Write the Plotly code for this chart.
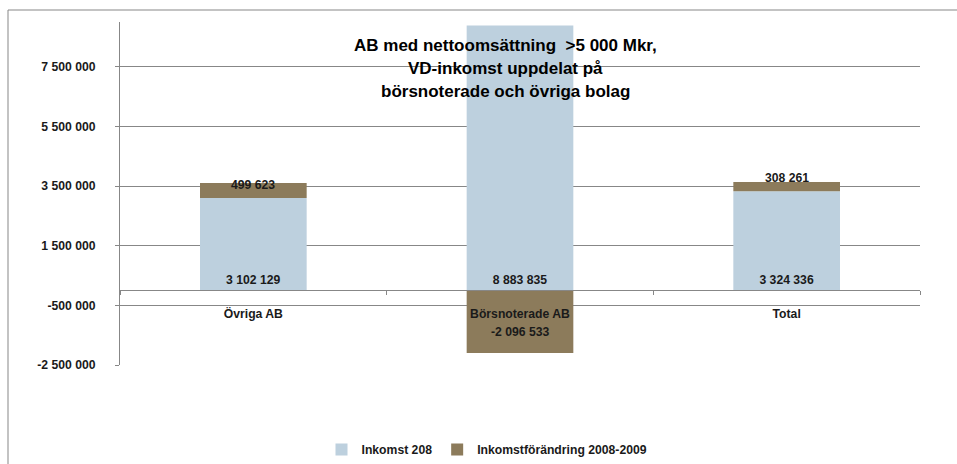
import plotly.graph_objects as go

# ---- data ----
categories = ["Övriga AB", "Börsnoterade AB", "Total"]
inkomst_2008 = [3102129, 8883835, 3324336]
forandring_0809 = [499623, -2096533, 308261]
series_names = ["Inkomst 208", "Inkomstförändring 2008-2009"]
y_tickvals = [-2500000, -500000, 1500000, 3500000, 5500000, 7500000]
title_lines = ["AB med nettoomsättning  >5 000 Mkr,",
               "VD-inkomst uppdelat på",
               "börsnoterade och övriga bolag"]

# ---- style ----
W, H = 957, 464
ML, MR, MT, MB = 120, 37, 22, 99
PW, PH = W - ML - MR, H - MT - MB
YMIN, YMAX = -2500000, 9000000
BLUE = "#BDD0DE"
BROWN = "#8C7B5B"
GRID = "#878787"
FONT = "Liberation Sans"
FS = 12.2
label_yshift = [-2, 21, 4]


def fmt(v):
    return f"{v:,}".replace(",", " ")


def px_x(p):
    return (p - ML) / PW


def px_y(p):
    return (MT + PH - p) / PH


fig = go.Figure()
fig.add_trace(go.Bar(
    x=categories, y=inkomst_2008, name=series_names[0],
    marker=dict(color=BLUE, line=dict(width=0)),
    text=[fmt(v) for v in inkomst_2008], textposition="inside",
    insidetextanchor="start", constraintext="none",
    textfont=dict(family=FONT, size=FS, color="#1a1a1a", weight="bold"),
))
fig.add_trace(go.Bar(
    x=categories, y=forandring_0809, name=series_names[1],
    marker=dict(color=BROWN, line=dict(width=0)),
))

# value labels for the change series, at the end of each stacked segment
for i, (c, a, d) in enumerate(zip(categories, inkomst_2008, forandring_0809)):
    end = a + d if d >= 0 else d
    fig.add_annotation(x=c, y=end, xref="x", yref="y", text=fmt(d),
                       showarrow=False, yanchor="middle", yshift=label_yshift[i],
                       font=dict(family=FONT, size=FS, color="#1a1a1a", weight="bold"))

# title
for k, line in enumerate(title_lines):
    fig.add_annotation(x=px_x(505), y=px_y(45 + 23 * k), xref="paper", yref="paper",
                       text=line, showarrow=False, xanchor="center", yanchor="middle",
                       font=dict(family=FONT, size=17, color="#000000", weight="bold"))

# chart border
fig.add_shape(type="rect", xref="paper", yref="paper",
              x0=px_x(8), x1=px_x(990), y0=px_y(500), y1=px_y(10),
              line=dict(color=GRID, width=1), fillcolor="rgba(0,0,0,0)", layer="below")

fig.update_layout(
    width=W, height=H, autosize=False,
    margin=dict(l=ML, r=MR, t=MT, b=MB, pad=0, autoexpand=False),
    paper_bgcolor="white", plot_bgcolor="white",
    barmode="relative", bargap=0.6,
    showlegend=True,
    legend=dict(orientation="h", x=px_x(487), xanchor="center", y=px_y(435), yanchor="top",
                font=dict(family=FONT, size=FS, color="#1a1a1a", weight="bold"),
                itemwidth=30, bgcolor="rgba(0,0,0,0)"),
    xaxis=dict(type="category", anchor="free", position=(0 - YMIN) / (YMAX - YMIN),
               showline=True, linecolor=GRID, linewidth=1, showgrid=False,
               ticks="outside", ticklen=4, tickcolor=GRID, tickson="boundaries",
               ticklabelstandoff=12,
               tickfont=dict(family=FONT, size=FS, color="#1a1a1a", weight="bold")),
    yaxis=dict(range=[YMIN, YMAX], tickvals=y_tickvals,
               ticktext=[fmt(v) for v in y_tickvals],
               showline=True, linecolor=GRID, linewidth=1,
               showgrid=True, gridcolor=GRID, gridwidth=1, zeroline=False,
               ticks="outside", ticklen=4, tickcolor=GRID, ticklabelstandoff=17,
               tickfont=dict(family=FONT, size=FS, color="#1a1a1a", weight="bold")),
)

fig.write_html("out.html", config={"displayModeBar": False},
               post_script="document.body.style.margin='0';")
